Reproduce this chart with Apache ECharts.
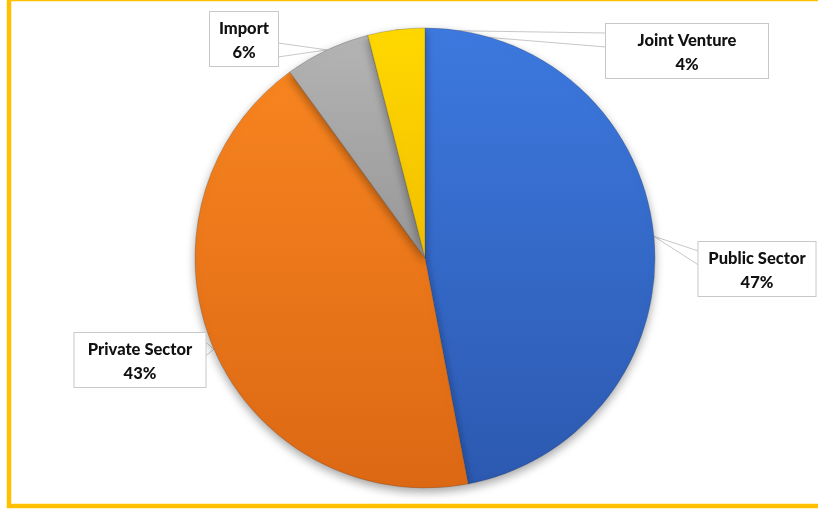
<!DOCTYPE html>
<html>
<head>
<meta charset="utf-8">
<script src="https://cdn.jsdelivr.net/npm/echarts@6/dist/echarts.min.js"></script>
<style>
  html, body { margin: 0; padding: 0; background: #fff; }
  #main { width: 818px; height: 512px; }
</style>
</head>
<body>
<div id="main"></div>
<script>
// slice data, clockwise from 12 o'clock
const names = ['Public Sector', 'Private Sector', 'Import', 'Joint Venture']
const shares = [47, 43, 6, 4]

// gradient colours (top, bottom) per slice
const topColors = ['#3d79df', '#f7841f', '#b4b4b4', '#ffd800']
const bottomColors = ['#2c59b0', '#dc6814', '#979797', '#f2bf00']

// callout box centres and widths
const boxCenters = [[757, 270], [140, 361], [244, 40], [687, 52]]
const boxWidths = [117, 131, 68, 162]

const chart = echarts.init(document.getElementById('main'))

const pieData = names.map((n, i) => ({
  name: n,
  value: shares[i],
  itemStyle: {
    color: new echarts.graphic.LinearGradient(0, 0, 0, 1, [
      { offset: 0, color: topColors[i] },
      { offset: 1, color: bottomColors[i] }
    ])
  },
  label: { width: boxWidths[i] }
}))

chart.setOption({
  animation: false,
  backgroundColor: '#fff',
  graphic: [
    {
      type: 'rect',
      shape: { x: 9, y: -1, width: 900, height: 507 },
      style: { fill: null, stroke: '#ffc000', lineWidth: 4.5 },
      z: 100
    }
  ],
  series: [
    {
      type: 'pie',
      center: [425, 258],
      radius: 230,
      startAngle: 90,
      clockwise: true,
      data: pieData,
      itemStyle: {
        borderColor: 'rgba(70,70,70,0.45)',
        borderWidth: 0.6,
        shadowBlur: 10,
        shadowColor: 'rgba(0,0,0,0.35)',
        shadowOffsetY: 4
      },
      emphasis: { disabled: true },
      label: {
        show: true,
        position: 'outside',
        formatter: p => p.name + '\n' + p.value + '%',
        fontFamily: 'Lato',
        fontWeight: 900,
        fontSize: 16.5,
        lineHeight: 24,
        color: '#111',
        align: 'center',
        backgroundColor: '#fff',
        borderColor: '#c8c8c8',
        borderWidth: 1,
        padding: [5, 0, 1, 0]
      },
      labelLine: {
        show: true,
        lineStyle: { color: '#c8c8c8', width: 1 }
      },
      labelLayout: function (params) {
        const i = params.dataIndex
        const c = boxCenters[i]
        const w = boxWidths[i]
        const h = params.labelRect.height
        const tip = params.labelLinePoints ? params.labelLinePoints[0] : c
        // wedge base on the box side that faces the tip
        const y = c[1] + ((tip[1] - c[1]) > 0 ? 10 : -12)
        const sx = tip[0] > c[0] ? c[0] + w / 2 : c[0] - w / 2
        return {
          x: c[0],
          y: c[1] - h / 2,
          align: 'center',
          verticalAlign: 'top',
          labelLinePoints: [[sx, y - 7], tip, [sx, y + 7]]
        }
      }
    }
  ]
})
</script>
</body>
</html>
